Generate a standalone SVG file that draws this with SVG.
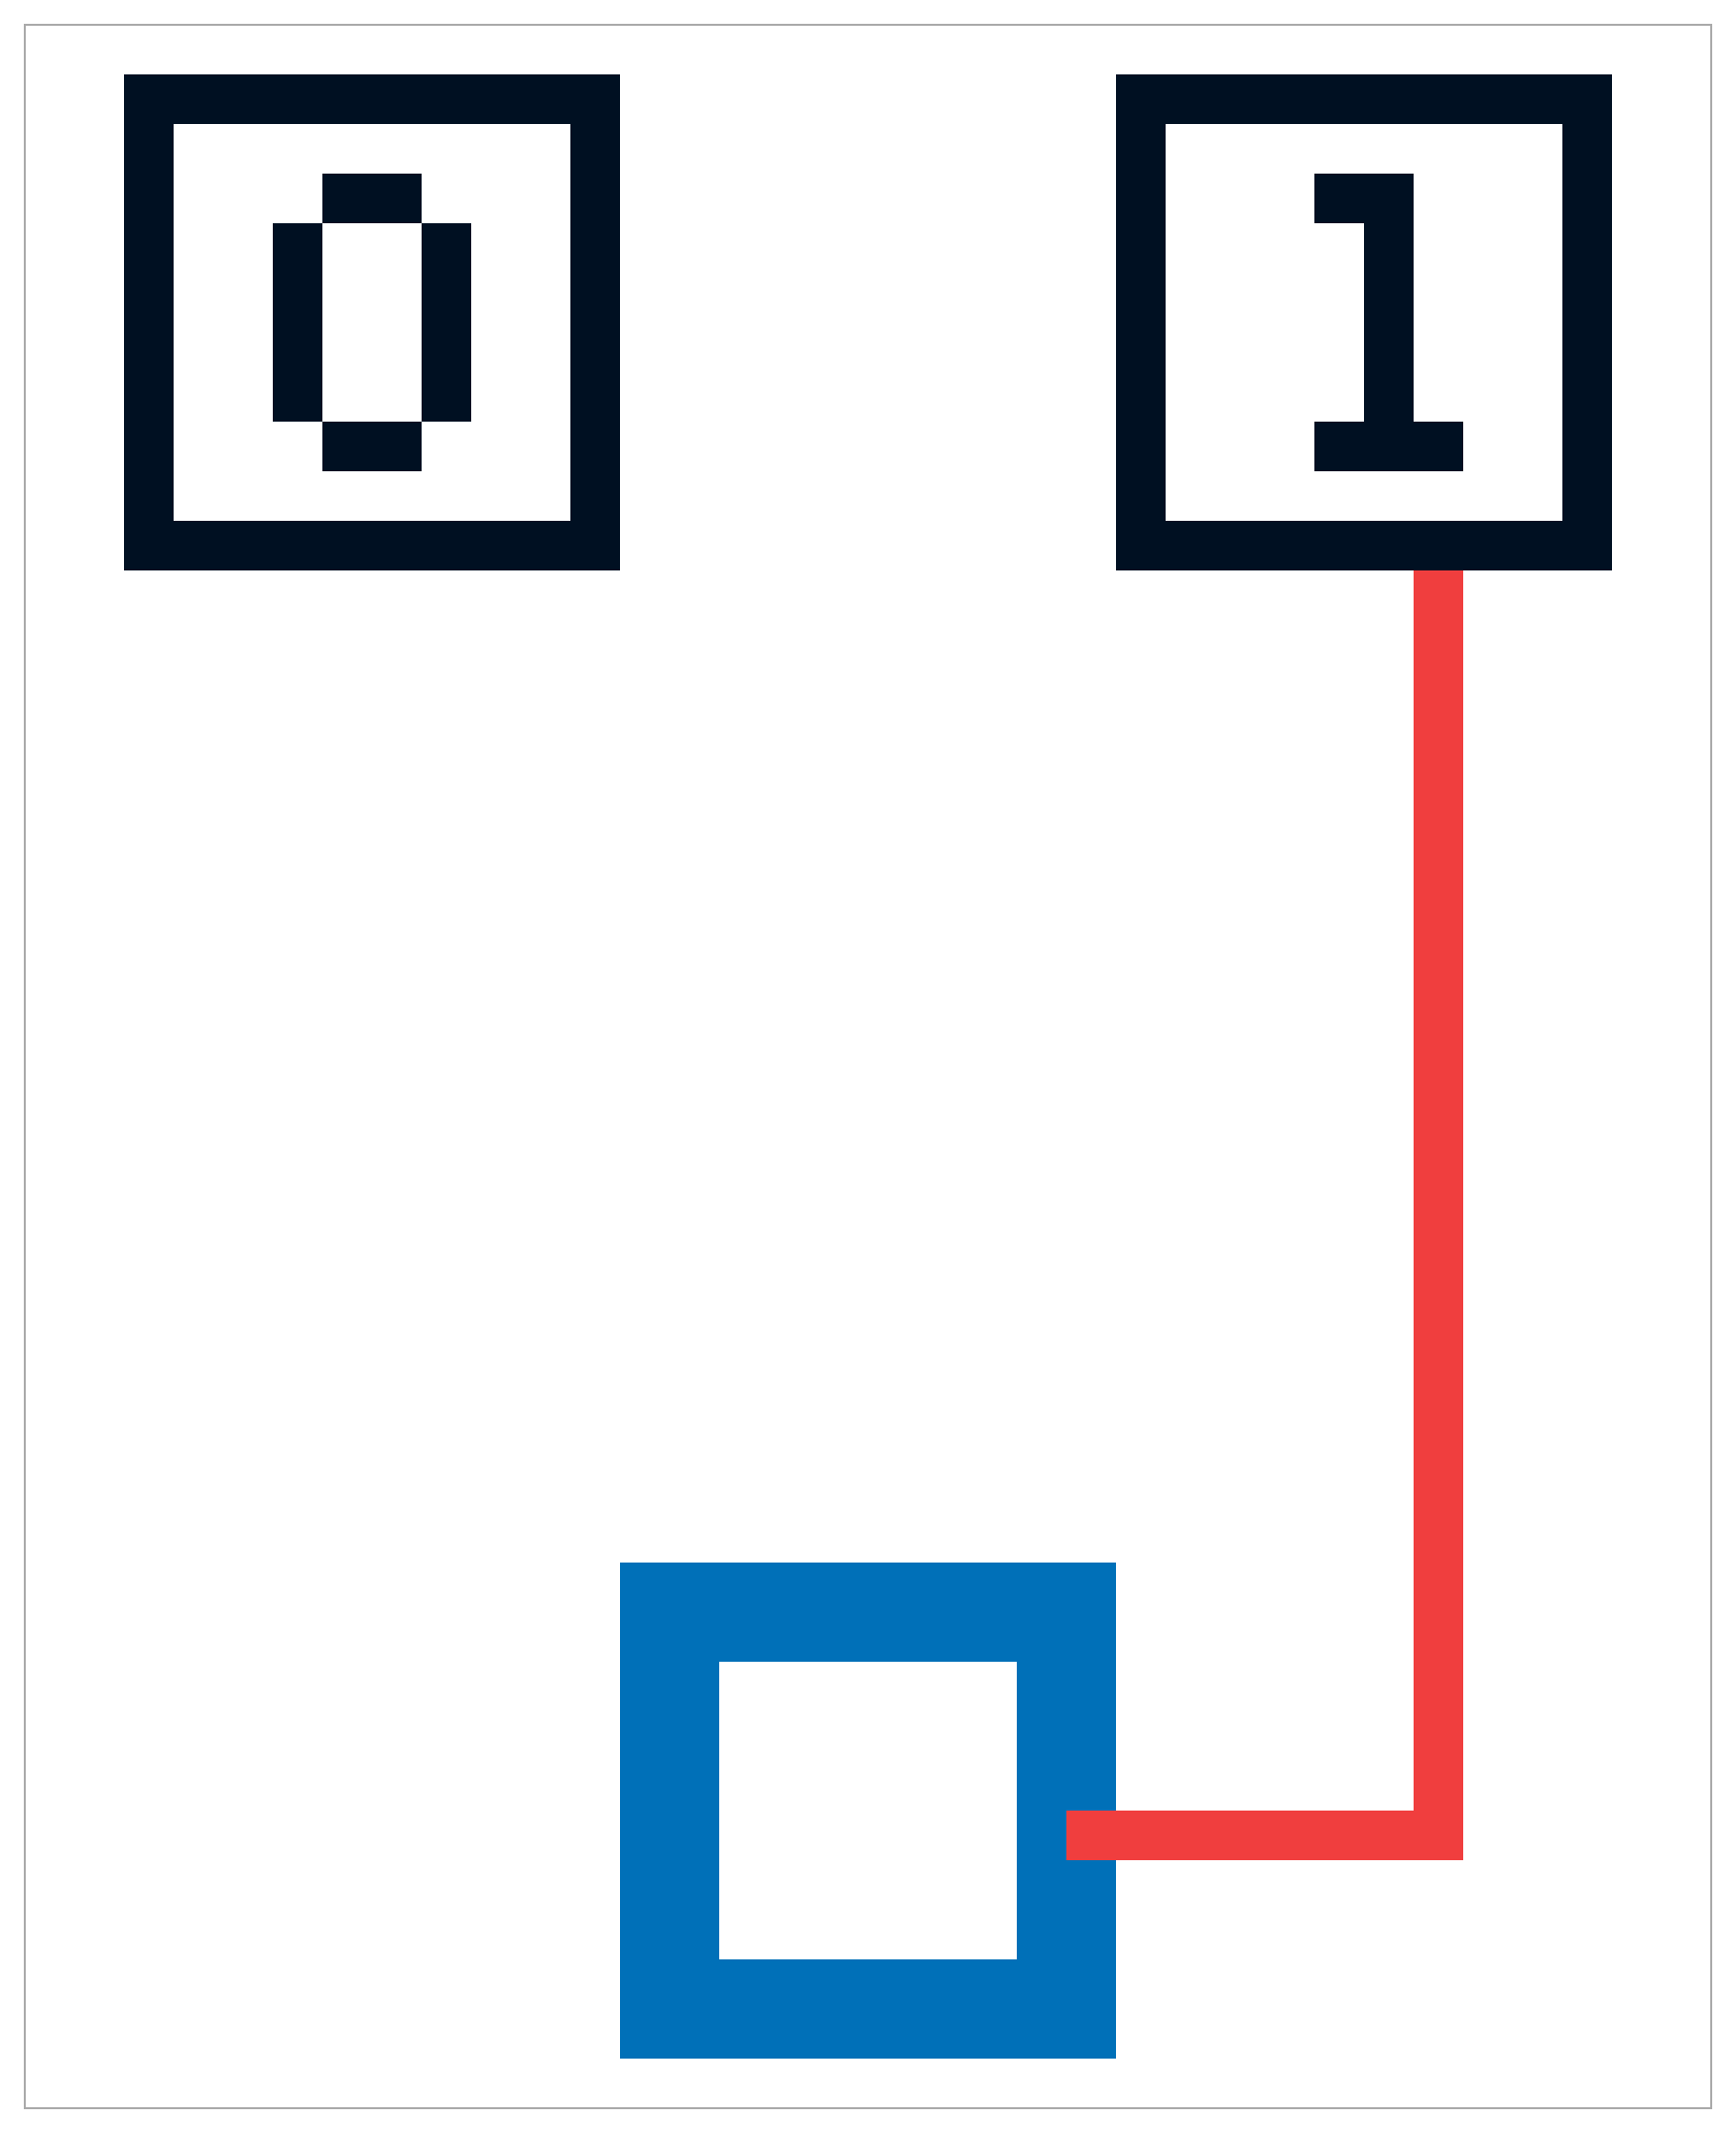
<svg xmlns="http://www.w3.org/2000/svg" width="1750" height="2150" viewBox="0 0 1750 2150">
<style>
.frame{fill:#ffffff;stroke:#aaaaaa;stroke-width:2}
.box{fill:#ffffff;stroke:#001022;stroke-width:50}
.px{fill:#001022}
.blue{fill:#ffffff;stroke:#0070b8;stroke-width:100}
.wire{fill:none;stroke:#f03e3e;stroke-width:50;stroke-linejoin:miter;stroke-linecap:butt}
</style>
<rect class="frame" x="25" y="25" width="1700" height="2100"/>
<g id="node-0">
<rect class="box" x="150" y="100" width="450" height="450"/>
<rect class="px" x="325" y="175" width="100" height="50"/>
<rect class="px" x="275" y="225" width="50" height="200"/>
<rect class="px" x="425" y="225" width="50" height="200"/>
<rect class="px" x="325" y="425" width="100" height="50"/>
</g>
<g id="node-1">
<rect class="box" x="1150" y="100" width="450" height="450"/>
<rect class="px" x="1325" y="175" width="100" height="50"/>
<rect class="px" x="1375" y="225" width="50" height="200"/>
<rect class="px" x="1325" y="425" width="150" height="50"/>
</g>
<g id="node-target">
<rect class="blue" x="675" y="1625" width="400" height="400"/>
</g>
<g id="connectors">
<path class="wire" d="M1450,575 V1850 H1075"/>
</g>
</svg>
